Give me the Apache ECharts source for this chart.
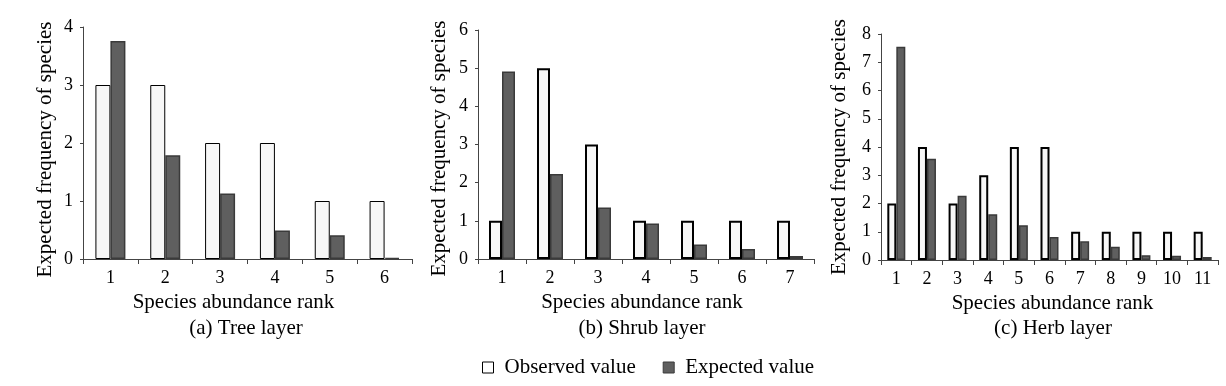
<!DOCTYPE html>
<html>
<head>
<meta charset="utf-8">
<script src="https://cdn.jsdelivr.net/npm/echarts@6/dist/echarts.min.js"></script>
<style>
html,body{margin:0;padding:0;background:#fff;}
#chart{width:1226px;height:386px;}
</style>
</head>
<body>
<div id="chart"></div>
<script>
// ---- data ----
const treeRanks = ['1','2','3','4','5','6'];
const treeObserved = [3, 3, 2, 2, 1, 1];
const treeExpected = [3.76, 1.79, 1.13, 0.49, 0.41, 0.02];

const shrubRanks = ['1','2','3','4','5','6','7'];
const shrubObserved = [1, 5, 3, 1, 1, 1, 1];
const shrubExpected = [4.91, 2.23, 1.35, 0.93, 0.38, 0.26, 0.08];

const herbRanks = ['1','2','3','4','5','6','7','8','9','10','11'];
const herbObserved = [2, 4, 2, 3, 4, 4, 1, 1, 1, 1, 1];
const herbExpected = [7.55, 3.58, 2.27, 1.62, 1.23, 0.81, 0.66, 0.47, 0.17, 0.15, 0.11];

const yMax = [4, 6, 8];
const panelTitles = ['(a) Tree layer', '(b) Shrub layer', '(c) Herb layer'];
const xName = 'Species abundance rank';
const yName = 'Expected frequency of species';
const seriesNames = ['Observed value', 'Expected value'];

// ---- layout / style ----
const FONT = '"Liberation Serif", "Times New Roman", serif';
const grids = [
  {left: 83, right: 1226 - 412, top: 27, bottom: 127},
  {left: 478, right: 1226 - 814, top: 30, bottom: 127},
  {left: 881, right: 1226 - 1218, top: 34, bottom: 126}
];
const barWidths = [15, 13, 9];
const obsBorder = [1, 2, 2];
const yNameGaps = [27, 28, 31];
const yNamePad = [[0, 13, 0, 0], [0, 8, 0, 0], [0, 0, 0, 0]];
const xNamePad = [[0, 28, 0, 0], [0, 8, 0, 0], [0, 0, 0, 6]];
const cats = [treeRanks, shrubRanks, herbRanks];
const obs = [treeObserved, shrubObserved, herbObserved];
const exp = [treeExpected, shrubExpected, herbExpected];

const xAxes = cats.map((c, i) => ({
  type: 'category', gridIndex: i, data: c,
  axisLine: {lineStyle: {color: '#444', width: 1}},
  axisTick: {show: true, length: 5, lineStyle: {color: '#444'}},
  axisLabel: {color: '#000', fontFamily: FONT, fontSize: 18, margin: 10},
  name: xName, nameLocation: 'middle', nameGap: 27,
  nameTextStyle: {color: '#000', fontFamily: FONT, fontSize: 21, padding: xNamePad[i]}
}));
const yAxes = yMax.map((m, i) => ({
  type: 'value', gridIndex: i, min: 0, max: m, interval: 1,
  axisLine: {show: true, lineStyle: {color: '#444', width: 1}},
  axisTick: {show: true, length: 3, lineStyle: {color: '#444'}},
  splitLine: {show: false},
  axisLabel: {color: '#000', fontFamily: FONT, fontSize: 18, margin: 10},
  name: yName, nameLocation: 'middle', nameGap: yNameGaps[i], nameRotate: 90,
  nameTextStyle: {color: '#000', fontFamily: FONT, fontSize: 21, padding: yNamePad[i]}
}));
const series = [];
for (let i = 0; i < 3; i++) {
  series.push({
    name: seriesNames[0], type: 'bar', xAxisIndex: i, yAxisIndex: i,
    data: obs[i], barWidth: barWidths[i], barGap: '0%',
    itemStyle: {color: '#f7f7f7', borderColor: '#000', borderWidth: obsBorder[i]},
    emphasis: {disabled: true}, animation: false
  });
  series.push({
    name: seriesNames[1], type: 'bar', xAxisIndex: i, yAxisIndex: i,
    data: exp[i], barWidth: barWidths[i], barGap: '0%',
    itemStyle: {color: '#5f5f5f', borderColor: '#3a3a3a', borderWidth: 1.5},
    emphasis: {disabled: true}, animation: false
  });
}
const centers = [246, 642, 1053];
const titles = panelTitles.map((t, i) => ({
  text: t, left: centers[i], top: 318, textAlign: 'center', padding: 0,
  textStyle: {color: '#000', fontFamily: FONT, fontSize: 21, fontWeight: 'normal'}
}));

const chart = echarts.init(document.getElementById('chart'), null, {renderer: 'canvas'});
chart.setOption({
  animation: false,
  backgroundColor: '#fff',
  title: titles,
  legend: {
    data: [
      {name: seriesNames[0], itemStyle: {color: '#fff', borderColor: '#000', borderWidth: 1}},
      {name: seriesNames[1], itemStyle: {color: '#5f5f5f', borderColor: '#3a3a3a', borderWidth: 1}}
    ],
    left: 482, top: 357, icon: 'rect', padding: 0,
    itemWidth: 11, itemHeight: 11, itemGap: 27,
    textStyle: {color: '#000', fontFamily: FONT, fontSize: 21, padding: [0, 0, 0, 6]},
    selectedMode: false
  },
  grid: grids,
  xAxis: xAxes,
  yAxis: yAxes,
  series: series
});
</script>
</body>
</html>
